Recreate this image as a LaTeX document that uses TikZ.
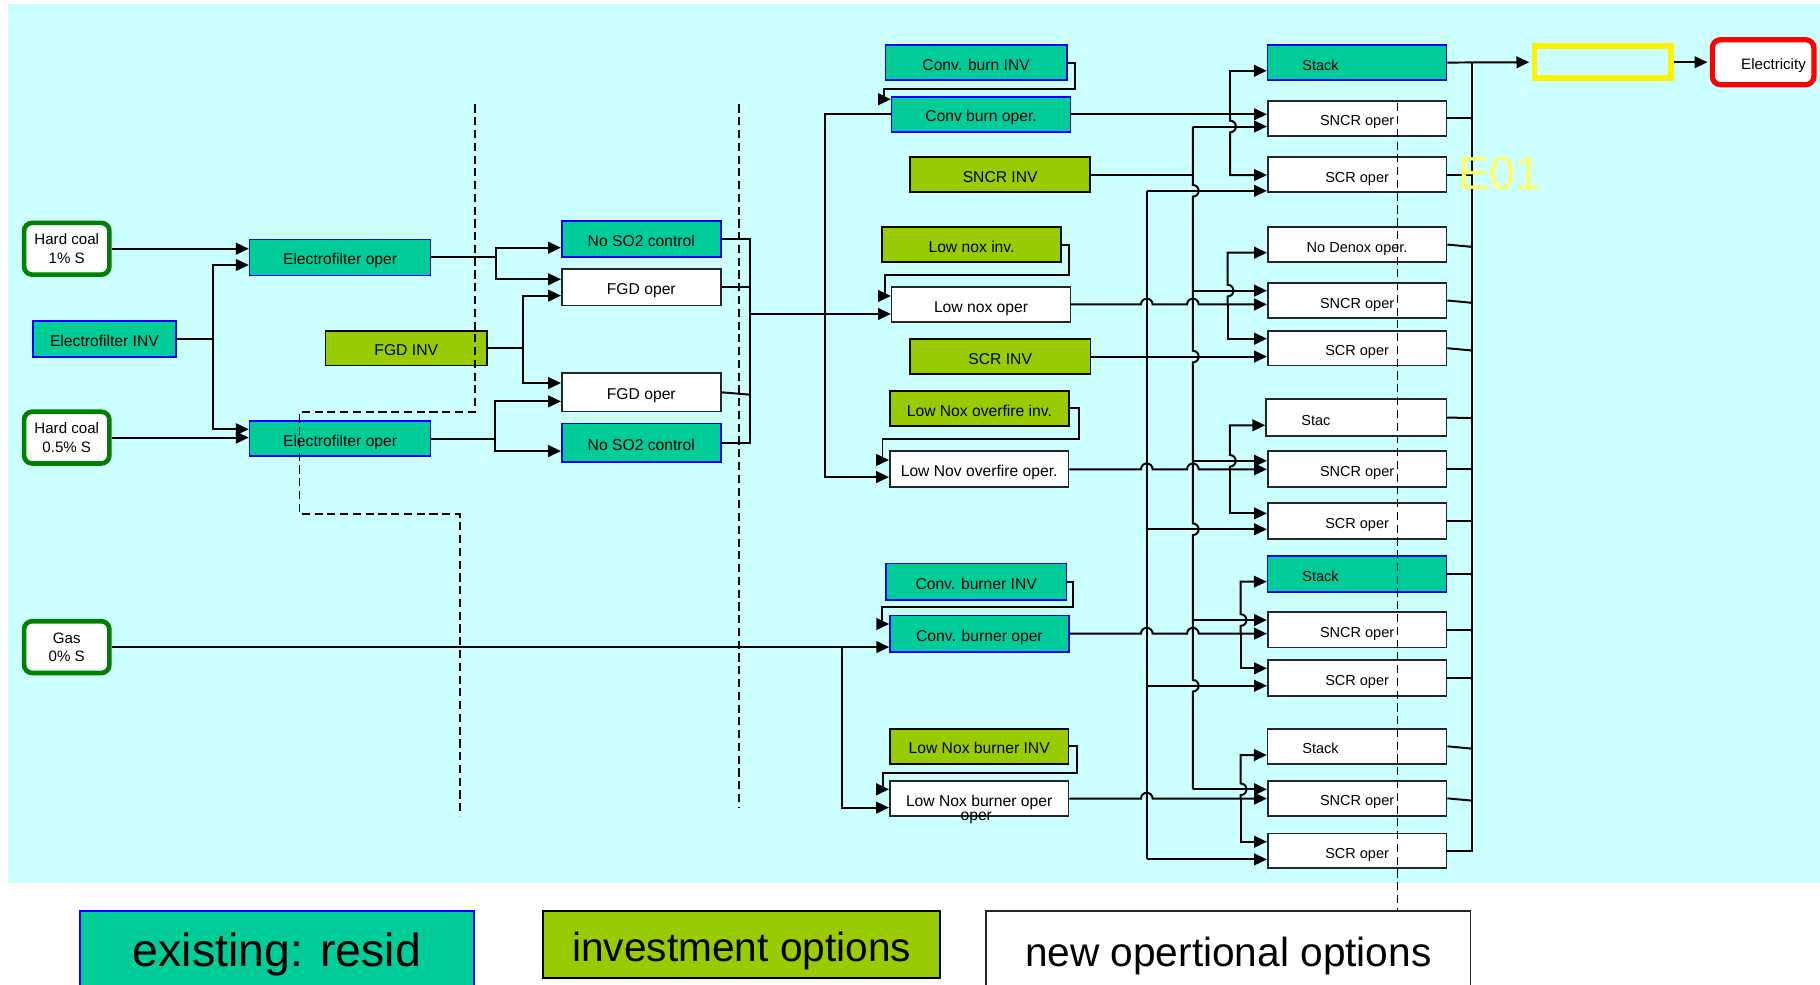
\documentclass[tikz,border=0pt]{standalone}
\usepackage{fontspec}
\setmainfont{Liberation Sans}
\usepackage{tikz}
\usetikzlibrary{arrows.meta,positioning,calc}
\definecolor{existteal}{RGB}{0,204,153}
\definecolor{investgreen}{RGB}{153,204,0}
\definecolor{bgcyan}{RGB}{204,255,255}
\definecolor{fuelgreen}{RGB}{0,128,0}
\definecolor{boxblue}{RGB}{0,0,255}
\definecolor{eyellow}{RGB}{255,255,102}
\newcommand{\hoph}{arc[start angle=180,end angle=0,radius=5pt]}
\newcommand{\hopv}{arc[start angle=90,end angle=-90,radius=5pt]}
\newcommand{\hopu}{arc[start angle=-90,end angle=90,radius=5pt]}
\begin{document}
\begin{tikzpicture}[x=1pt, y=-1pt,
  box/.style={draw, minimum width=154pt, minimum height=30pt, inner sep=0pt,
              align=center, line width=1.4pt, text height=13pt, text depth=0pt,
              font=\fontsize{13.5}{15}\selectfont},
  existing/.style={box, fill=existteal, draw=boxblue},
  invest/.style={box, fill=investgreen, draw=black},
  operbox/.style={box, fill=white, draw=black!85},
  rcol/.style={font=\fontsize{12.5}{14}\selectfont},
  stackbox/.style={text width=94.3pt, align=left, inner xsep=30pt},
  fuel/.style={draw=fuelgreen, line width=4pt, rounded corners=7pt, fill=white,
               minimum width=73.5pt, minimum height=44.6pt, inner sep=0pt,
               align=center, font=\fontsize{13}{16}\selectfont},
  flow/.style={line width=1.7pt, -{Triangle[length=11pt,width=10pt]}},
  wire/.style={line width=1.7pt},
  divider/.style={line width=1.6pt, dash pattern=on 7pt off 4pt}
]
\path[use as bounding box] (0,0) rectangle (1568,848);
\clip (0,0) rectangle (1568,848);
\fill[bgcyan] (7,3.5) rectangle (1568,760.5);

%% Fuels and dust / sulphur stage
\node[fuel] (hc1) at (57.5,214.3) {Hard coal\\1\% S};
\node[fuel] (hc2) at (57.5,377) {Hard coal\\0.5\% S};
\node[fuel] (gas) at (57.5,557.5) {Gas\\0\% S};
\node[existing, minimum width=123pt, minimum height=31pt] (efinv) at (90,292.3) {Electrofilter INV};
\node[existing, minimum width=156pt, minimum height=31pt] (efa) at (293,221.8) {Electrofilter oper};
\node[existing, minimum width=156pt] (efb) at (293,377.8) {Electrofilter oper};
\node[invest, minimum width=139pt] (fgdinv) at (350,300) {FGD INV};
\node[existing, minimum width=137pt, minimum height=31pt] (nsa) at (552.5,206) {No SO2 control};
\node[operbox, minimum width=137pt, minimum height=31.5pt] (fga) at (552.5,247.6) {FGD oper};
\node[operbox, minimum width=137pt, minimum height=33pt] (fgb) at (552.5,338) {FGD oper};
\node[existing, minimum width=137pt, minimum height=33pt] (nsa2) at (552.5,381.3) {No SO2 control};

%% Burner stage
\node[existing, minimum width=156pt] (cbinv) at (841,53.9) {Conv. burn INV};
\node[existing] (cbop) at (845.2,98.5) {Conv burn oper.};
\node[invest, minimum width=155pt] (sncrinv) at (861.7,150.5) {SNCR INV};
\node[invest] (lninv) at (837,210.7) {Low nox inv.};
\node[operbox] (lnop) at (845.2,262.3) {Low nox oper};
\node[invest, minimum width=155.5pt] (scrinv) at (861.7,307.2) {SCR INV};
\node[invest] (lofinv) at (843.8,351.9) {Low Nox overfire inv.};
\node[operbox, minimum height=31pt] (lofop) at (843.6,404.3) {Low Nov overfire oper.};
\node[existing, minimum width=155.5pt, minimum height=31.5pt] (cbrinv) at (841,501.2) {Conv. burner INV};
\node[existing, minimum height=31.5pt] (cbrop) at (843.8,545.9) {Conv. burner oper};
\node[invest] (lnbinv) at (843.6,643) {Low Nox burner INV};
\node[operbox] (lnbop) at (843.6,688) {Low Nox burner oper};
\node[font=\fontsize{13.5}{15}\selectfont, inner sep=0pt] (lnbop2) at ([xshift=-2.5pt,yshift=-1pt]lnbop.south) {oper};

%% NOx stage
\node[existing, rcol, stackbox] (stk1) at (1169.2,53.9) {Stack};
\node[operbox, rcol] (sn1) at (1169.2,102) {SNCR oper};
\node[operbox, rcol] (sc1) at (1169.2,150.4) {SCR oper};
\node[operbox, rcol] (nd) at (1169.2,210.7) {No Denox oper.};
\node[operbox, rcol] (sn2) at (1169.2,258.9) {SNCR oper};
\node[operbox, rcol] (sc2) at (1169.2,300) {SCR oper};
\node[operbox, rcol, stackbox, minimum width=155.3pt, minimum height=31.4pt] (stk2) at (1168.4,359.7) {Stac};
\node[operbox, rcol, minimum height=31pt] (sn3) at (1169.2,404.3) {SNCR oper};
\node[operbox, rcol, minimum height=31pt] (sc3) at (1169.2,449.1) {SCR oper};
\node[existing, rcol, stackbox, minimum height=31pt] (stk3) at (1169.2,494.3) {Stack};
\node[operbox, rcol, minimum height=31pt] (sn4) at (1169.2,542.5) {SNCR oper};
\node[operbox, rcol, minimum height=31pt] (sc4) at (1169.2,583.9) {SCR oper};
\node[operbox, rcol, stackbox] (stk4) at (1169.2,643) {Stack};
\node[operbox, rcol] (sn5) at (1169.2,687.8) {SNCR oper};
\node[operbox, rcol] (sc5) at (1169.2,733) {SCR oper};

%% Output
\node[draw=yellow, line width=5pt, minimum width=117.8pt, minimum height=27.5pt, inner sep=0pt] (yel) at (1380.9,53.6) {};
\node[draw=red, line width=4.5pt, rounded corners=7pt, fill=white, minimum width=87.5pt,
      minimum height=38.7pt, inner ysep=0pt, inner xsep=7pt, text width=73.5pt, align=right,
      text height=12pt, text depth=0pt, font=\fontsize{13}{15}\selectfont] (elec) at (1519,53.6) {Electricity};

%% Legend
\node[existing, minimum width=339.6pt, minimum height=75pt, text height=35pt, text depth=15pt,
      font=\fontsize{40}{44}\selectfont] (lgex) at (238.5,822.5) {existing: resid};
\node[invest, minimum width=342pt, minimum height=57.3pt, text height=40pt, text depth=10.4pt,
      font=\fontsize{35}{40}\selectfont] (lginv) at (639,813.7) {investment options};
\node[operbox, minimum width=417.5pt, minimum height=75pt, text height=35pt, text depth=15pt,
      font=\fontsize{35}{40}\selectfont] (lgnew) at (1058.2,822.5) {new opertional options};

%% Dust and sulphur connections
\draw[flow] (hc1.east) -- (efa.west |- hc1.east);
\draw[flow] (hc2.east) -- (efb.west |- hc2.east);
\draw[wire] (efinv.east) -- ++(31,0) coordinate (efj);
\draw[flow] (efj) |- ([yshift=-6.5pt]efa.west);
\draw[flow] (efj) |- ([yshift=8pt]efb.west);
\draw[wire] (efa.east) -- ++(55.5,0) coordinate (efaj);
\draw[flow] (efaj) |- ([yshift=-7.4pt]nsa.west);
\draw[flow] (efaj) |- ([yshift=7pt]fga.west);
\draw[wire] (fgdinv.east) -- ++(30.2,0) coordinate (fgdj);
\draw[flow] (fgdj) |- ([yshift=-7.1pt]fga.west);
\draw[flow] (fgdj) |- ([yshift=8pt]fgb.west);
\draw[wire] (efb.east) -- ++(54.6,0) coordinate (efbj);
\draw[flow] (efbj) |- ([yshift=-7.8pt]fgb.west);
\draw[flow] (efbj) |- ([yshift=-7.3pt]nsa2.west);

%% Sulphur bus to burners
\coordinate (sbus) at (646,270.5);
\draw[wire] (nsa.east) -| (sbus);
\draw[wire] (nsa2.east) -| (sbus);
\draw[wire] (fga.east) -- (fga.east -| sbus);
\draw[wire] (fgb.east) -- ([yshift=-2pt]fgb.east -| sbus);
\draw[flow] (sbus) -- (lnop.west |- sbus);
\draw[flow] (cbop.west) -- ++(-56.6,0) |- ([yshift=-6.7pt]lofop.west);
\draw[flow] (gas.east) -- ++(629.1,0) coordinate (gasj) -- (cbrop.west |- gas.east);
\draw[flow] (gasj) |- ([yshift=-7.8pt]lnbop.west);

%% Investment loops
\draw[flow] (cbinv.east) -- ++(6.3,0) |- ++(-164.5,22.8) |- ([yshift=13pt]cbop.west);
\draw[flow] (lninv.east) -- ++(6.2,0) |- ++(-158.4,26.3) |- ([yshift=7.3pt]lnop.west);
\draw[flow] (lofinv.east) -- ++(7.9,0) |- ++(-169.1,26.6) |- ([yshift=8pt]lofop.west);
\draw[flow] (cbrinv.east) -- ++(5,0) |- ++(-164.2,22) |- ([yshift=8.3pt]cbrop.west);
\draw[flow] (lnbinv.east) -- ++(6.6,0) |- ++(-167.4,23.2) |- ([yshift=8pt]lnbop.west);

%% Inlets of the NOx stage
\coordinate (stk1i) at ([yshift=-7.1pt]stk1.west);
\coordinate (sn1a) at ([yshift=3.5pt]sn1.west);
\coordinate (sn1b) at ([yshift=-7pt]sn1.west);
\coordinate (sc1a) at ([yshift=-0.4pt]sc1.west);
\coordinate (sc1b) at ([yshift=-14pt]sc1.west);
\coordinate (nda) at ([yshift=-7pt]nd.west);
\coordinate (sn2a) at ([yshift=8.5pt]sn2.west);
\coordinate (sn2b) at ([yshift=-3.4pt]sn2.west);
\coordinate (sc2a) at ([yshift=8.2pt]sc2.west);
\coordinate (sc2b) at ([yshift=-7.2pt]sc2.west);
\coordinate (stk2i) at ([yshift=-6.7pt]stk2.west);
\coordinate (sn3a) at ([yshift=7.3pt]sn3.west);
\coordinate (sn3b) at (sn3.west);
\coordinate (sc3a) at ([yshift=6.8pt]sc3.west);
\coordinate (sc3b) at ([yshift=-6.9pt]sc3.west);
\coordinate (stk3i) at ([yshift=-6.8pt]stk3.west);
\coordinate (sn4a) at ([yshift=8.3pt]sn4.west);
\coordinate (sn4b) at ([yshift=-3.4pt]sn4.west);
\coordinate (sc4a) at ([yshift=8.1pt]sc4.west);
\coordinate (sc4b) at ([yshift=-6.9pt]sc4.west);
\coordinate (stk4i) at ([yshift=-7.5pt]stk4.west);
\coordinate (sn5a) at ([yshift=7.8pt]sn5.west);
\coordinate (sn5b) at ([yshift=-0.2pt]sn5.west);
\coordinate (sc5a) at ([yshift=7.8pt]sc5.west);
\coordinate (sc5b) at ([yshift=-7.4pt]sc5.west);
\coordinate (scrx) at (988,0);
\coordinate (sncrx) at (1027.7,0);

%% SCR INV trunk
\draw[flow] (scrinv.east) -- (sc2b);
\draw[wire] (sc1b -| scrx) -- (sc5b -| scrx);
\draw[flow] (sc1b -| scrx) -- (sc1b);
\draw[flow] (sc3b -| scrx) -- (sc3b);
\draw[flow] (sc4b -| scrx) -- (sc4b);
\draw[flow] (sc5b -| scrx) -- (sc5b);

%% SNCR INV trunk
\draw[wire] (sncrinv.east) -- (sncrinv.east -| sncrx);
\draw[wire] (sn1b -| sncrx) -- ($(sc1b -| sncrx)+(0,-5)$) \hopv
  -- ($(sc2b -| sncrx)+(0,-5)$) \hopv -- ($(sc3b -| sncrx)+(0,-5)$) \hopv
  -- ($(sc4b -| sncrx)+(0,-5)$) \hopv -- (sn5a -| sncrx);
\draw[flow] (sn1b -| sncrx) -- (sn1b);
\draw[flow] (sn2a -| sncrx) -- (sn2a);
\draw[flow] (sn3a -| sncrx) -- (sn3a);
\draw[flow] (sn4a -| sncrx) -- (sn4a);
\draw[flow] (sn5a -| sncrx) -- (sn5a);

%% Burner outputs fan-out
\draw[flow] (cbop.east) -- (sn1a);
\coordinate (d1) at (1059.8,98.5);
\draw[flow] (d1) |- (stk1i);
\draw[flow] (d1) -- ($(d1 |- sn1b)+(0,-5)$) \hopv |- (sc1a);

\draw[flow] (lnop.east) -- ($(lnop.east -| scrx)+(-5,0)$) \hoph
  -- ($(lnop.east -| sncrx)+(-5,0)$) \hoph -- (sn2b);
\coordinate (d2) at (1057.7,262.3);
\draw[flow] (d2) -- ($(d2 |- sn2a)+(0,5)$) \hopu |- (nda);
\draw[flow] (d2) |- (sc2a);

\draw[flow] (lofop.east) -- ($(lofop.east -| scrx)+(-5,0)$) \hoph
  -- ($(lofop.east -| sncrx)+(-5,0)$) \hoph -- (sn3b);
\coordinate (d3) at (1059.6,404.3);
\draw[flow] (d3) -- ($(d3 |- sn3a)+(0,5)$) \hopu |- (stk2i);
\draw[flow] (d3) |- (sc3a);

\draw[flow] (cbrop.east) -- ($(cbrop.east -| scrx)+(-5,0)$) \hoph
  -- ($(cbrop.east -| sncrx)+(-5,0)$) \hoph -- (sn4b);
\coordinate (d4) at (1068.9,545.9);
\draw[flow] (d4) -- ($(d4 |- sn4a)+(0,5)$) \hopu |- (stk3i);
\draw[flow] (d4) |- (sc4a);

\draw[flow] (lnbop.east) -- ($(lnbop.east -| scrx)+(-5,0)$) \hoph -- (sn5b);
\coordinate (d5) at (1068.9,688);
\draw[flow] (d5) -- ($(d5 |- sn5a)+(0,5)$) \hopu |- (stk4i);
\draw[flow] (d5) |- (sc5a);

%% Collector to output
\coordinate (rbus) at (1268.4,53.9);
\draw[flow, shorten >=2pt] (stk1.east) -- (yel.west);
\draw[flow, shorten >=2pt] (yel.east) -- (elec.west);
\draw[wire] (rbus) |- (sc5.east);
\draw[wire] (sn1.east) -- (sn1.east -| rbus);
\draw[wire] (sc1.east) -- (sc1.east -| rbus);
\draw[wire] (nd.east) -- ([yshift=-2pt]nd.east -| rbus);
\draw[wire] (sn2.east) -- ([yshift=-2pt]sn2.east -| rbus);
\draw[wire] (sc2.east) -- ([yshift=-2pt]sc2.east -| rbus);
\draw[wire] (stk2.east) -- ([yshift=-0.5pt]stk2.east -| rbus);
\draw[wire] (sn3.east) -- (sn3.east -| rbus);
\draw[wire] (sc3.east) -- (sc3.east -| rbus);
\draw[wire] (stk3.east) -- (stk3.east -| rbus);
\draw[wire] (sn4.east) -- (sn4.east -| rbus);
\draw[wire] (sc4.east) -- (sc4.east -| rbus);
\draw[wire] (stk4.east) -- ([yshift=-2pt]stk4.east -| rbus);
\draw[wire] (sn5.east) -- ([yshift=-2pt]sn5.east -| rbus);

\node[text=eyellow, font=\fontsize{40}{44}\selectfont, inner sep=0pt] (e01) at (1292,149.5) {E01};

%% Stage dividers
\draw[divider] (409,90) -- (409,355) -- (258,355) -- (258,443) -- (396,443) -- (396,703);
\draw[divider] (637,90) -- (637,696);
\draw[divider] (1204,89) -- (1204,785);
\end{tikzpicture}
\end{document}
